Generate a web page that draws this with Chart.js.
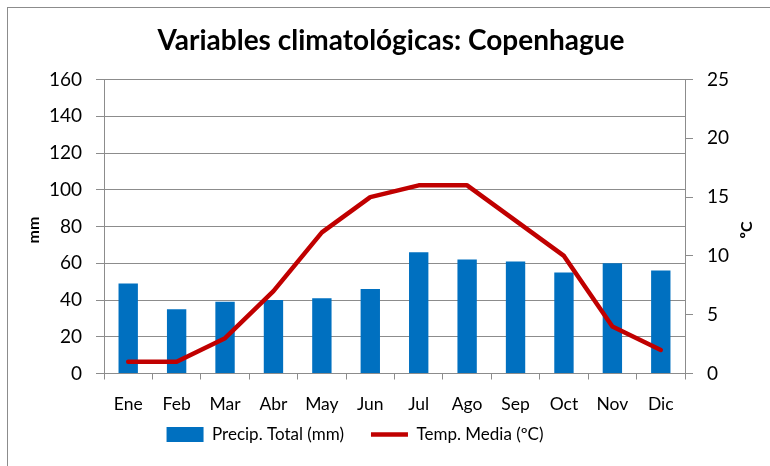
<!DOCTYPE html>
<html lang="es">
<head>
<meta charset="UTF-8">
<script src="https://cdn.jsdelivr.net/npm/chart.js"></script>
<title>Variables climatológicas: Copenhague</title>
<style>
  body { margin: 0; background: #fff; }
  #wrap { position: relative; width: 770px; height: 466px; overflow: hidden; }
  #frame { position: absolute; left: 7px; top: 7px; width: 800px; height: 500px; border: 1px solid #8c8c8c; }
  #wrap canvas { position: absolute; left: 0; top: 0; }
</style>
</head>
<body>
<div id="wrap">
  <div id="frame"></div>
  <canvas id="climaChart" width="770" height="466"></canvas>
</div>

<script>
const meses = ['Ene', 'Feb', 'Mar', 'Abr', 'May', 'Jun', 'Jul', 'Ago', 'Sep', 'Oct', 'Nov', 'Dic'];
const precipitacion = [49, 35, 39, 40, 41, 46, 66, 62, 61, 55, 60, 56];
const temperatura = [1, 1, 3, 7, 12, 15, 16, 16, 13, 10, 4, 2];
const ticksMm = [0, 20, 40, 60, 80, 100, 120, 140, 160];
const ticksTemp = [0, 5, 10, 15, 20, 25];

const FUENTE = 'Lato, "Liberation Sans", sans-serif';
const GRIS = '#8c8c8c';

// titulos de los ejes verticales, los dos leidos de abajo hacia arriba
const titulosEjes = {
    id: 'titulosEjes',
    afterDraw(chart) {
        const ctx = chart.ctx;
        ctx.save();
        ctx.font = 'bold 16px ' + FUENTE;
        ctx.fillStyle = '#000';
        ctx.textAlign = 'center';
        ctx.textBaseline = 'middle';
        [['mm', 34], ['ºC', 747]].forEach(([texto, x]) => {
            ctx.save();
            ctx.translate(x, 230);
            ctx.rotate(-Math.PI / 2);
            ctx.fillText(texto, 0, 0);
            ctx.restore();
        });
        ctx.restore();
    }
};

// recoloca titulo y leyenda una vez hecho el layout
const desplazar = {
    id: 'desplazar',
    afterLayout(chart) {
        const lg = chart.legend;
        lg.left -= 30;
        lg.right -= 30;
        lg.top -= 13;
        lg.bottom -= 13;
        chart.titleBlock.left += 6;
        chart.titleBlock.right += 6;
        // que no se recorte la cola de la "g" de Ago
        chart.scales.x.bottom += 8;
    }
};

const ctx = document.getElementById('climaChart');

new Chart(ctx, {
    data: {
        labels: meses,
        datasets: [{
            type: 'bar',
            label: 'Precip. Total (mm)',
            data: precipitacion,
            backgroundColor: '#0070c0',
            borderWidth: 0,
            barPercentage: 0.4,
            categoryPercentage: 1,
            yAxisID: 'y',
            order: 1
        }, {
            type: 'line',
            label: 'Temp. Media (ºC)',
            data: temperatura,
            borderColor: '#c00000',
            backgroundColor: '#c00000',
            borderWidth: 4.5,
            borderJoinStyle: 'round',
            borderCapStyle: 'round',
            pointRadius: 0,
            tension: 0,
            yAxisID: 'y1',
            order: 0
        }]
    },
    options: {
        responsive: false,
        animation: false,
        layout: { padding: 0 },
        plugins: {
            tooltip: { enabled: false },
            title: {
                display: true,
                text: 'Variables climatológicas: Copenhague',
                color: '#000',
                font: { family: FUENTE, size: 28, weight: 'bold', lineHeight: 1.2 },
                padding: { top: 24.2, bottom: 21.7 }
            },
            legend: {
                position: 'bottom',
                labels: {
                    color: '#000',
                    font: { family: FUENTE, size: 17 },
                    usePointStyle: true,
                    pointStyleWidth: 37,
                    boxHeight: 15,
                    padding: 27,
                    generateLabels(chart) {
                        const items = Chart.defaults.plugins.legend.labels.generateLabels(chart);
                        items.sort((a, b) => a.datasetIndex - b.datasetIndex);
                        items.forEach(it => {
                            if (it.datasetIndex === 0) {
                                it.pointStyle = 'rect';
                                it.lineWidth = 0;
                            } else {
                                it.pointStyle = 'line';
                                it.lineWidth = 4.5;
                            }
                        });
                        return items;
                    }
                }
            }
        },
        scales: {
            x: {
                grid: {
                    offset: true,
                    drawOnChartArea: false,
                    color: GRIS,
                    tickLength: 6
                },
                border: { color: GRIS },
                ticks: {
                    color: '#000',
                    font: { family: FUENTE, size: 17.5 },
                    padding: 14,
                    maxRotation: 0
                },
                afterFit(scale) { scale.height = 38.5; }
            },
            y: {
                position: 'left',
                min: ticksMm[0],
                max: ticksMm[ticksMm.length - 1],
                afterBuildTicks(scale) { scale.ticks = ticksMm.map(v => ({ value: v })); },
                grid: { color: GRIS, tickLength: 8 },
                border: { color: GRIS },
                ticks: {
                    color: '#000',
                    font: { family: FUENTE, size: 19 },
                    padding: 14
                },
                afterFit(scale) { scale.width = 104; }
            },
            y1: {
                position: 'right',
                min: ticksTemp[0],
                max: ticksTemp[ticksTemp.length - 1],
                afterBuildTicks(scale) { scale.ticks = ticksTemp.map(v => ({ value: v })); },
                grid: { drawOnChartArea: false, color: GRIS, tickLength: 8 },
                border: { color: GRIS },
                ticks: {
                    color: '#000',
                    font: { family: FUENTE, size: 19 },
                    padding: 14
                },
                afterFit(scale) { scale.width = 85; }
            }
        }
    },
    plugins: [titulosEjes, desplazar]
});
</script>
</body>
</html>
